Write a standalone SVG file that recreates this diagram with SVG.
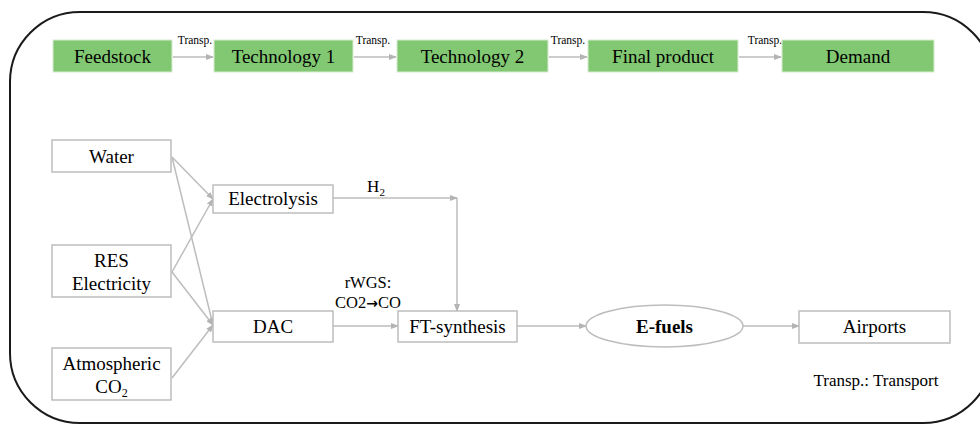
<svg xmlns="http://www.w3.org/2000/svg" width="980" height="429" viewBox="0 0 980 429">
<defs>
<marker id="ah" markerWidth="8" markerHeight="6" refX="7" refY="3" orient="auto" markerUnits="userSpaceOnUse">
<path d="M0,0 L8,3 L0,6 z" fill="#b4b4b4"/>
</marker>
<style>
.t{font-family:"Liberation Serif","Times New Roman",serif;fill:#000;text-anchor:middle}
.g{fill:#82c872;stroke:#d6ecd0;stroke-width:1}
.b{fill:#fff;stroke:#bdbdbd;stroke-width:1.5}
.c{fill:none;stroke:#bdbdbd;stroke-width:1.5;marker-end:url(#ah)}
.s{font-size:11.5px}
.m{font-size:19px}
</style>
</defs>
<rect x="10" y="12" width="983" height="411" rx="70" ry="70" fill="#fff" stroke="#1a1a1a" stroke-width="2"/>

<g id="connectors">
<line class="c" x1="173" y1="57" x2="213" y2="57"/>
<line class="c" x1="354" y1="57" x2="396" y2="57"/>
<line class="c" x1="549" y1="57" x2="587" y2="57"/>
<line class="c" x1="739" y1="57" x2="781" y2="57"/>
<line class="c" x1="172" y1="157" x2="213" y2="199"/>
<line class="c" x1="172" y1="157" x2="213" y2="325"/>
<line class="c" x1="172" y1="272" x2="213" y2="199"/>
<line class="c" x1="172" y1="272" x2="213" y2="325"/>
<line class="c" x1="172" y1="378" x2="213" y2="325"/>
<line class="c" x1="333" y1="198" x2="457" y2="198"/>
<line class="c" x1="457" y1="198" x2="457" y2="311"/>
<line class="c" x1="333" y1="326" x2="398" y2="326"/>
<line class="c" x1="517" y1="326" x2="586" y2="326"/>
<line class="c" x1="743" y1="326" x2="799" y2="326"/>
<text class="t s" x="195" y="44">Transp.</text>
<text class="t s" x="373" y="44">Transp.</text>
<text class="t s" x="568" y="44">Transp.</text>
<text class="t s" x="765" y="44">Transp.</text>
<text class="t" font-size="17" x="376" y="192">H<tspan font-size="11" dy="4">2</tspan></text>
<text class="t" font-size="16.5" x="368" y="288">rWGS:</text>
<text class="t" font-size="16.5" x="368" y="308">CO2<tspan font-family="DejaVu Sans,sans-serif" font-weight="bold" font-size="14">→</tspan>CO</text>
</g>

<g id="feedstock"><rect class="g" x="53" y="40" width="119" height="32"/><text class="t m" x="112.5" y="63">Feedstock</text></g>
<g id="technology1"><rect class="g" x="214" y="40" width="139" height="32"/><text class="t m" x="283.5" y="63">Technology 1</text></g>
<g id="technology2"><rect class="g" x="397" y="40" width="151" height="32"/><text class="t m" x="472.5" y="63">Technology 2</text></g>
<g id="finalproduct"><rect class="g" x="588" y="40" width="150" height="32"/><text class="t m" x="663" y="63">Final product</text></g>
<g id="demand"><rect class="g" x="782" y="40" width="152" height="32"/><text class="t m" x="858" y="63">Demand</text></g>

<g id="water"><rect class="b" x="52" y="140" width="119" height="32"/><text class="t m" x="111.5" y="163">Water</text></g>
<g id="res"><rect class="b" x="52" y="245" width="119" height="52"/><text class="t m" x="111.5" y="267">RES</text><text class="t m" x="111.5" y="290">Electricity</text></g>
<g id="atmco2"><rect class="b" x="52" y="348" width="119" height="52"/><text class="t m" x="111.5" y="370">Atmospheric</text><text class="t m" x="111.5" y="393">CO<tspan font-size="12" dy="4">2</tspan></text></g>
<g id="electrolysis"><rect class="b" x="213" y="185" width="120" height="28"/><text class="t m" x="273" y="205">Electrolysis</text></g>
<g id="dac"><rect class="b" x="213" y="311" width="120" height="31"/><text class="t m" x="273" y="333">DAC</text></g>
<g id="ftsynthesis"><rect class="b" x="398" y="311" width="119" height="31"/><text class="t m" x="457.5" y="333">FT-synthesis</text></g>
<g id="efuels"><ellipse class="b" cx="664.5" cy="326" rx="78.5" ry="21"/><text class="t m" x="664.5" y="333" font-weight="bold">E-fuels</text></g>
<g id="airports"><rect class="b" x="799" y="311" width="151" height="32"/><text class="t m" x="874.5" y="333">Airports</text></g>
<g id="legend"><text class="t" font-size="17" x="876" y="386">Transp.: Transport</text></g>
</svg>
